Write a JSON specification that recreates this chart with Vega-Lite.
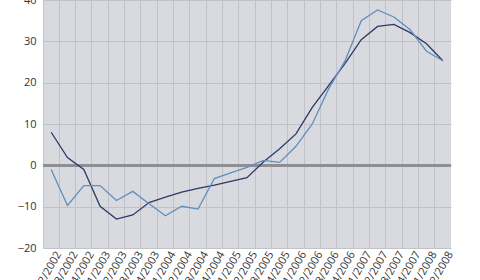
{
  "$schema": "https://vega.github.io/schema/vega-lite/v6.json",
  "autosize": {"type": "none"},
  "width": 408,
  "height": 248,
  "padding": {"left": 43, "top": 0, "right": 29, "bottom": 32},
  "background": "#ffffff",
  "config": {
    "view": {"fill": "#d9dadf", "stroke": null},
    "font": "Open Sans"
  },
  "data": {
    "values": [
      {"q": "2/2002", "s": "A", "v": 8.0}, {"q": "2/2002", "s": "B", "v": -1.0},
      {"q": "3/2002", "s": "A", "v": 1.9}, {"q": "3/2002", "s": "B", "v": -9.7},
      {"q": "4/2002", "s": "A", "v": -1.0}, {"q": "4/2002", "s": "B", "v": -4.9},
      {"q": "1/2003", "s": "A", "v": -9.9}, {"q": "1/2003", "s": "B", "v": -4.9},
      {"q": "2/2003", "s": "A", "v": -13.0}, {"q": "2/2003", "s": "B", "v": -8.5},
      {"q": "3/2003", "s": "A", "v": -12.0}, {"q": "3/2003", "s": "B", "v": -6.3},
      {"q": "4/2003", "s": "A", "v": -9.0}, {"q": "4/2003", "s": "B", "v": -9.3},
      {"q": "1/2004", "s": "A", "v": -7.7}, {"q": "1/2004", "s": "B", "v": -12.2},
      {"q": "2/2004", "s": "A", "v": -6.5}, {"q": "2/2004", "s": "B", "v": -9.9},
      {"q": "3/2004", "s": "A", "v": -5.6}, {"q": "3/2004", "s": "B", "v": -10.6},
      {"q": "4/2004", "s": "A", "v": -4.8}, {"q": "4/2004", "s": "B", "v": -3.2},
      {"q": "1/2005", "s": "A", "v": -3.9}, {"q": "1/2005", "s": "B", "v": -1.8},
      {"q": "2/2005", "s": "A", "v": -3.0}, {"q": "2/2005", "s": "B", "v": -0.5},
      {"q": "3/2005", "s": "A", "v": 0.8}, {"q": "3/2005", "s": "B", "v": 1.2},
      {"q": "4/2005", "s": "A", "v": 4.0}, {"q": "4/2005", "s": "B", "v": 0.7},
      {"q": "1/2006", "s": "A", "v": 7.6}, {"q": "1/2006", "s": "B", "v": 4.6},
      {"q": "2/2006", "s": "A", "v": 14.0}, {"q": "2/2006", "s": "B", "v": 10.0},
      {"q": "3/2006", "s": "A", "v": 19.3}, {"q": "3/2006", "s": "B", "v": 18.5},
      {"q": "4/2006", "s": "A", "v": 24.6}, {"q": "4/2006", "s": "B", "v": 25.2},
      {"q": "1/2007", "s": "A", "v": 30.4}, {"q": "1/2007", "s": "B", "v": 35.0},
      {"q": "2/2007", "s": "A", "v": 33.6}, {"q": "2/2007", "s": "B", "v": 37.6},
      {"q": "3/2007", "s": "A", "v": 34.1}, {"q": "3/2007", "s": "B", "v": 35.9},
      {"q": "4/2007", "s": "A", "v": 32.1}, {"q": "4/2007", "s": "B", "v": 32.8},
      {"q": "1/2008", "s": "A", "v": 29.4}, {"q": "1/2008", "s": "B", "v": 27.6},
      {"q": "2/2008", "s": "A", "v": 25.3}, {"q": "2/2008", "s": "B", "v": 25.3}
    ]
  },
  "layer": [
    {
      "mark": {"type": "rule", "color": "#8e8f94", "strokeWidth": 2},
      "encoding": {"y": {"datum": 0, "type": "quantitative", "scale": {"domain": [-20, 40], "nice": false}}}
    },
    {
      "mark": {"type": "line", "strokeWidth": 1.3},
      "encoding": {
        "x": {
          "field": "q", "type": "ordinal", "sort": null,
          "scale": {"type": "band", "paddingInner": 0, "paddingOuter": 0},
          "axis": {
            "title": null, "bandPosition": 0, "grid": true, "gridColor": "#c2c3c8", "gridWidth": 1,
            "domain": false, "ticks": false, "labelAngle": -60, "labelAlign": "right", "labelBaseline": "middle",
            "labelFontSize": 11, "labelColor": "#333333", "labelPadding": 4, "labelOffset": 8
          }
        },
        "y": {
          "field": "v", "type": "quantitative",
          "scale": {"domain": [-20, 40], "nice": false},
          "axis": {
            "title": null, "values": [-20, -10, 0, 10, 20, 30, 40], "grid": true, "gridColor": "#c2c3c8",
            "domain": false, "ticks": false, "labelFontSize": 11, "labelColor": "#333333", "labelPadding": 7
          }
        },
        "color": {
          "field": "s", "type": "nominal",
          "scale": {"domain": ["A", "B"], "range": ["#2b3a66", "#5e8fbf"]},
          "legend": null
        }
      }
    }
  ]
}
